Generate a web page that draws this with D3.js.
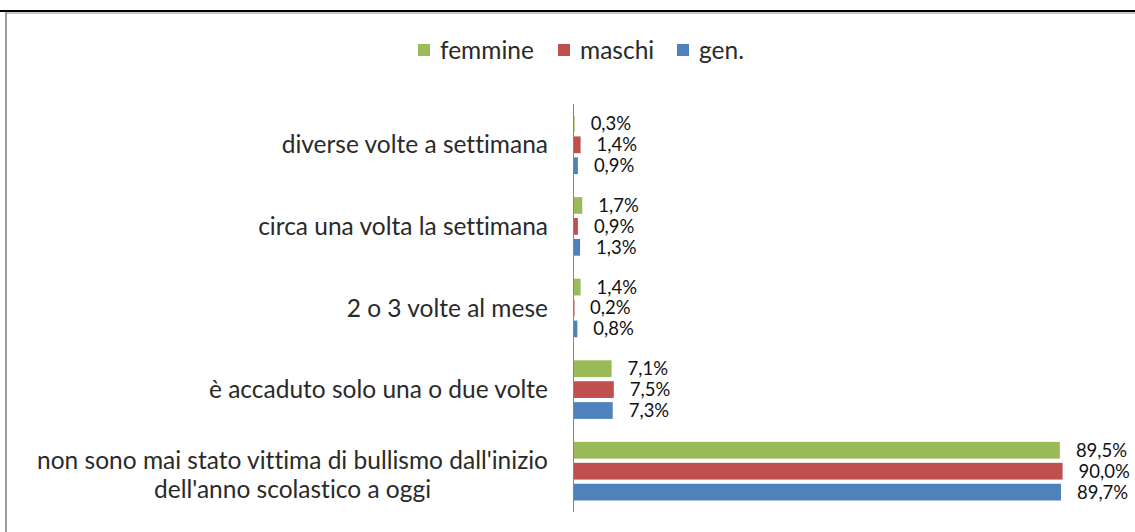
<!DOCTYPE html>
<html>
<head>
<meta charset="utf-8">
<script src="https://cdn.jsdelivr.net/npm/d3@7"></script>
<style>
  html, body { margin: 0; padding: 0; background: #fff; }
  svg { display: block; font-family: Lato, "Open Sans", sans-serif; font-variant-ligatures: none; }
</style>
</head>
<body>
<div id="chart"></div>
<script>
// Frequency of being bullied, by gender
const categories = [
    "diverse volte a settimana",
    "circa una volta la settimana",
    "2 o 3 volte al mese",
    "è accaduto solo una o due volte",
    "non sono mai stato vittima di bullismo dall'inizio\ndell'anno scolastico a oggi"
];
const seriesNames = ["femmine", "maschi", "gen."];
const femmine = [0.3, 1.7, 1.4, 7.1, 89.5];
const maschi  = [1.4, 0.9, 0.2, 7.5, 90.0];
const gen     = [0.9, 1.3, 0.8, 7.3, 89.7];
const colors = ["#9bbb59", "#c0504d", "#4f81bd"];

const width = 1135, height = 532;

const svg = d3.select("#chart").append("svg")
    .attr("width", width)
    .attr("height", height);

// frame: dark top rule and grey chart border
svg.append("rect").attr("x", 0).attr("y", 10).attr("width", width).attr("height", 2).attr("fill", "#000");
svg.append("rect").attr("x", 5).attr("y", 12).attr("width", width).attr("height", 2).attr("fill", "#c8c8c8");
svg.append("rect").attr("x", 5).attr("y", 12).attr("width", 2).attr("height", height).attr("fill", "#9a9a9a");

// scales
const x = d3.scaleLinear().domain([0, 100]).range([573, 1117]);
const y = d3.scaleBand().domain(d3.range(categories.length)).range([104, 512]);
const inner = d3.scaleBand().domain(d3.range(3)).range([0, y.bandwidth()]).paddingInner(0.2).paddingOuter(0.55);

const rows = categories.map((c, i) => ({
    cat: c,
    vals: [femmine[i], maschi[i], gen[i]]
}));

const group = svg.selectAll(".cat")
    .data(rows)
    .join("g")
    .attr("class", "cat")
    .attr("transform", (d, i) => `translate(0,${y(i)})`);

group.selectAll("rect")
    .data(d => d.vals)
    .join("rect")
    .attr("x", x(0))
    .attr("y", (d, j) => inner(j))
    .attr("width", d => Math.max(1.5, x(d) - x(0)))
    .attr("height", inner.bandwidth())
    .attr("fill", (d, j) => colors[j]);

// data labels
group.selectAll("text.val")
    .data(d => d.vals)
    .join("text")
    .attr("class", "val")
    .attr("x", d => x(d) + 16)
    .attr("y", (d, j) => inner(j) + inner.bandwidth() / 2)
    .attr("dy", "0.35em")
    .attr("font-size", "18.5px")
    .attr("fill", "#111")
    .text(d => d.toFixed(1).replace(".", ",") + "%");

// category labels
const catLabel = group.append("text")
    .attr("text-anchor", "middle")
    .attr("font-size", "24.5px")
    .attr("fill", "#2a2a2a");

catLabel.each(function(d) {
    const lines = d.cat.split("\n");
    const t = d3.select(this);
    const lh = 29;
    const y0 = y.bandwidth() / 2 + (lines.length > 1 ? 4 : 0) - (lines.length - 1) * lh / 2;
    t.selectAll("tspan")
        .data(lines)
        .join("tspan")
        .attr("x", 0)
        .attr("y", (l, k) => y0 + k * lh)
        .attr("dy", "0.35em")
        .text(l => l);
});
// right-align the block at x=548, centre multi-line text inside it
catLabel.each(function() {
    const w = this.getBBox().width;
    d3.select(this).selectAll("tspan").attr("x", 548 - w / 2);
});

// category axis
svg.append("line")
    .attr("x1", x(0) + 0.5).attr("x2", x(0) + 0.5)
    .attr("y1", y.range()[0]).attr("y2", y.range()[1])
    .attr("stroke", "#868686");

// legend
const legendX = [418, 558, 677];
const legend = svg.selectAll(".leg")
    .data(seriesNames)
    .join("g")
    .attr("class", "leg")
    .attr("transform", (d, i) => `translate(${legendX[i]},44)`);
legend.append("rect")
    .attr("width", 12).attr("height", 12)
    .attr("fill", (d, i) => colors[i]);
legend.append("text")
    .attr("x", 22)
    .attr("y", 6)
    .attr("dy", "0.35em")
    .attr("font-size", "24.5px")
    .attr("fill", "#2a2a2a")
    .text(d => d);
</script>
</body>
</html>
